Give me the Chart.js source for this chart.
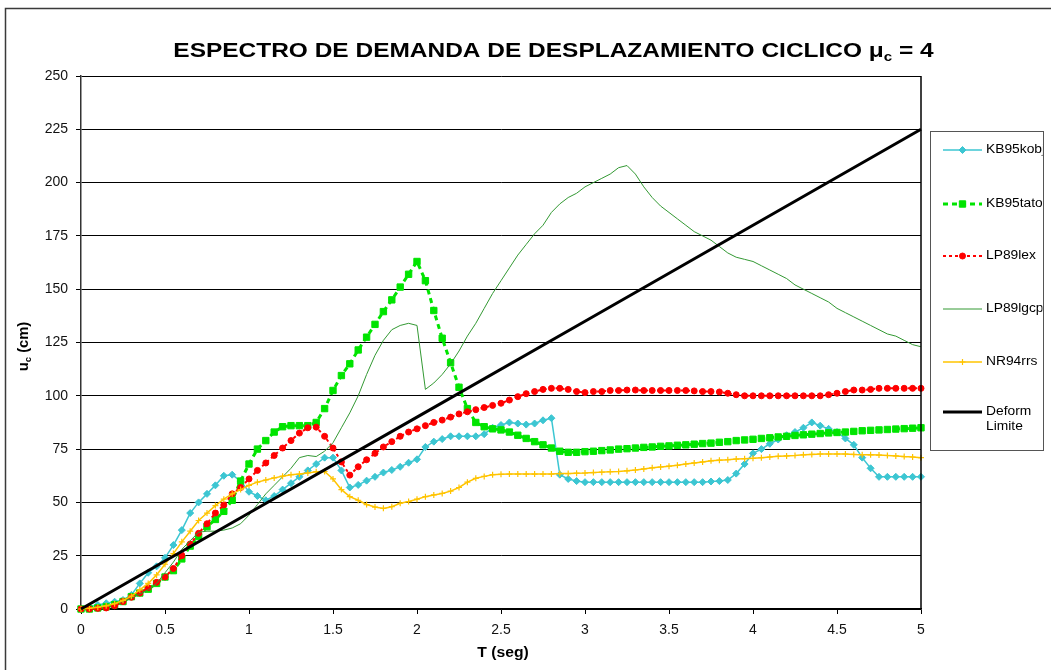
<!DOCTYPE html>
<html>
<head>
<meta charset="utf-8">
<title>Espectro de demanda de desplazamiento ciclico</title>
<script src="https://cdn.jsdelivr.net/npm/chart.js@4.4.1/dist/chart.umd.min.js"></script>
<style>
  html, body { margin: 0; padding: 0; background: #fff; }
  canvas { display: block; }
</style>
</head>
<body>
<canvas id="spectrumChart" width="1051" height="670"></canvas>
<script>
// periodo T (seg)
const periods = [
  0, 0.05, 0.1, 0.15, 0.2, 0.25, 0.3, 0.35, 0.4, 0.45,
  0.5, 0.55, 0.6, 0.65, 0.7, 0.75, 0.8, 0.85, 0.9, 0.95,
  1, 1.05, 1.1, 1.15, 1.2, 1.25, 1.3, 1.35, 1.4, 1.45,
  1.5, 1.55, 1.6, 1.65, 1.7, 1.75, 1.8, 1.85, 1.9, 1.95,
  2, 2.05, 2.1, 2.15, 2.2, 2.25, 2.3, 2.35, 2.4, 2.45,
  2.5, 2.55, 2.6, 2.65, 2.7, 2.75, 2.8, 2.85, 2.9, 2.95,
  3, 3.05, 3.1, 3.15, 3.2, 3.25, 3.3, 3.35, 3.4, 3.45,
  3.5, 3.55, 3.6, 3.65, 3.7, 3.75, 3.8, 3.85, 3.9, 3.95,
  4, 4.05, 4.1, 4.15, 4.2, 4.25, 4.3, 4.35, 4.4, 4.45,
  4.5, 4.55, 4.6, 4.65, 4.7, 4.75, 4.8, 4.85, 4.9, 4.95,
  5
];

const kb95kobj = [
  0, 1, 1.9, 2.7, 3.4, 4.2, 6.6, 12, 17, 20,
  24, 30, 37, 45, 50, 54, 58, 62.5, 63, 60,
  55, 53, 51, 53, 56, 59, 62, 65, 68, 71,
  71, 65, 57, 58.2, 60.2, 62, 64, 65.2, 66.7, 68.6,
  70.2, 76, 78.5, 79.7, 81, 81, 81, 81, 82, 85,
  86.3, 87.5, 87, 86.5, 87, 88.5, 89.5, 63, 61, 60,
  59.5, 59.5, 59.5, 59.5, 59.5, 59.5, 59.5, 59.5, 59.5, 59.5,
  59.5, 59.5, 59.5, 59.5, 59.5, 59.8, 60, 60.5, 63.5, 68,
  73, 75, 77.5, 79.5, 81.5, 83, 85, 87.5, 86, 84.5,
  83, 80, 77, 71, 66, 62, 62, 62, 62, 62,
  62
];

const kb95tato = [
  0, 0, 0.5, 1, 2, 3.5, 5.8, 7.5, 9.3, 12,
  15, 18, 23.5, 29.5, 34, 38.6, 42, 45.8, 51, 60,
  68, 75, 79, 83, 85.5, 86, 86, 86, 87.5, 94,
  102.5, 109.5, 115, 121.5, 127.5, 133.5, 139.5, 145, 151, 157,
  163, 154, 140, 127, 115.5, 104, 94, 87.5, 85.5, 84.5,
  84, 83, 81.5, 80, 78.5, 77, 75.5, 74, 73.5, 73.5,
  73.8, 74, 74.3, 74.6, 75, 75.2, 75.5, 75.8, 76, 76.3,
  76.5, 76.8, 77, 77.3, 77.6, 77.8, 78.2, 78.5, 79, 79.3,
  79.6, 80, 80.3, 80.7, 81, 81.4, 81.7, 82, 82.3, 82.6,
  82.8, 83, 83.3, 83.6, 83.8, 84, 84.2, 84.4, 84.6, 84.8,
  85
];

const lp89lex = [
  0, 0, 0.3, 0.5, 1.5, 3.5, 5.5, 7.5, 10, 12.5,
  15, 19, 25, 30.5, 35.5, 40, 45, 48.8, 54, 57,
  61, 65, 68.5, 72, 75.5, 79, 82.5, 85, 85.3, 81,
  75.5, 69, 62.8, 66.7, 70, 73, 76, 78.5, 81, 83,
  84.5, 86, 87.5, 88.6, 90, 91.5, 92.5, 93.5, 94.5, 95.5,
  96.5, 98, 99.6, 101, 102, 103, 103.5, 103.5, 103, 102,
  101.5, 102, 102, 102.5, 102.5, 102.7, 102.7, 102.5, 102.5, 102.5,
  102.5, 102.5, 102.5, 102.3, 102, 102, 101.8, 101.2, 100.5, 100,
  100, 100, 100, 100, 100, 100, 100, 100, 100, 100.5,
  101.2, 102, 102.7, 102.7, 103, 103.5, 103.5, 103.5, 103.5, 103.5,
  103.5
];

const lp89lgcp = [
  0, 0.3, 0.8, 1.5, 2.5, 3.5, 5, 7, 9, 12,
  17, 22, 28, 32, 36, 36.5, 36.5, 37, 38, 40,
  44, 49, 54, 58, 62, 66, 71, 72, 71.5, 74,
  78, 85, 92, 100, 110, 119, 126, 131, 133, 134,
  133, 103, 106, 110, 115, 121, 128, 134, 141, 148,
  154, 160, 166, 171, 176, 180, 186, 190, 193, 195,
  198, 200, 202, 204, 207, 208, 204, 198, 193, 189,
  186, 183, 180, 177, 175, 173, 170, 167, 165, 164,
  163, 161, 159, 157, 155, 152, 150, 148, 146, 144,
  141, 139, 137, 135, 133, 131, 129, 128, 126, 124,
  123
];

const nr94rrs = [
  0, 0.3, 0.8, 1.5, 2.5, 4, 6, 9, 12, 16,
  21, 26, 31.5, 36.5, 41.5, 45, 48.5, 51.5, 54, 56,
  58, 59.5, 60.5, 61.5, 62.3, 63, 63.3, 63.8, 64.4, 64.5,
  61, 56, 52.7, 51, 49, 47.8, 47.2, 48, 49.6, 50.4,
  51.5, 52.7, 53.5, 54.2, 55.3, 57, 59.5, 61.3, 62.2, 63,
  63.2, 63.3, 63.3, 63.3, 63.3, 63.3, 63.3, 63.5, 63.5, 63.7,
  63.8, 64, 64.2, 64.4, 64.5, 64.8, 65.2, 65.7, 66.2, 66.6,
  67, 67.4, 68, 68.5, 69, 69.5, 69.8, 70, 70.3, 70.5,
  70.7, 71, 71.3, 71.6, 71.8, 72, 72.3, 72.5, 72.7, 72.7,
  72.7, 72.7, 72.5, 72.4, 72.3, 72.2, 72, 71.8, 71.5, 71.3,
  71
];

// limite de deformacion
const limitPeriods = [0, 1, 2, 3, 4, 5];
const limitValues = [0, 45, 90, 135, 180, 225];

const xTicks = [0, 0.5, 1, 1.5, 2, 2.5, 3, 3.5, 4, 4.5, 5];
const yTicks = [0, 25, 50, 75, 100, 125, 150, 175, 200, 225, 250];

const FONT = '"Liberation Sans", Arial, Helvetica, sans-serif';
Chart.defaults.font.family = FONT;

function toPoints(xs, ys) {
    return xs.map((x, i) => ({ x: x, y: ys[i] }));
}

const series = [
    { label: 'KB95kobj', data: toPoints(periods, kb95kobj), color: '#3cc6d2', width: 1.5, dash: [], marker: 'rectRot', radius: 3.5 },
    { label: 'KB95tato', data: toPoints(periods, kb95tato), color: '#00e400', width: 3, dash: [5, 4], marker: 'rect', radius: 4.5 },
    { label: 'LP89lex', data: toPoints(periods, lp89lex), color: '#ff0000', width: 2, dash: [3, 3], marker: 'circle', radius: 3 },
    { label: 'LP89lgcp', data: toPoints(periods, lp89lgcp), color: '#339933', width: 1, dash: [], marker: false, radius: 0 },
    { label: 'NR94rrs', data: toPoints(periods, nr94rrs), color: '#ffc400', width: 1.5, dash: [], marker: 'cross', radius: 3 },
    { label: 'Deform\nLimite', data: toPoints(limitPeriods, limitValues), color: '#000000', width: 3, dash: [], marker: false, radius: 0 }
];

const datasets = series.map((s, i) => ({
    label: s.label,
    data: s.data,
    borderColor: s.color,
    backgroundColor: s.color,
    borderWidth: s.width,
    borderDash: s.dash,
    pointStyle: s.marker || 'circle',
    pointRadius: s.radius,
    pointBorderWidth: s.marker === 'cross' ? 1.2 : 1,
    pointBackgroundColor: s.color,
    pointBorderColor: s.color,
    tension: 0,
    fill: false,
    clip: false,
    order: series.length - i
}));

// draws text stretched horizontally, like the original export
function drawStretched(ctx, parts, cx, baseline, sx, align) {
    let total = 0;
    parts.forEach(p => { ctx.font = p.font; p.w = ctx.measureText(p.text).width; total += p.w; });
    let x0 = align === 'left' ? cx : cx - total * sx / 2;
    ctx.save();
    ctx.translate(x0, baseline);
    ctx.scale(sx, 1);
    let x = 0;
    parts.forEach(p => {
        ctx.font = p.font;
        ctx.fillText(p.text, x, p.dy || 0);
        x += p.w;
    });
    ctx.restore();
}

const decorPlugin = {
    id: 'decor',
    beforeDraw(chart) {
        const ctx = chart.ctx;
        ctx.save();
        ctx.fillStyle = '#ffffff';
        ctx.fillRect(0, 0, chart.width, chart.height);
        ctx.restore();
    },
    afterDraw(chart) {
        const ctx = chart.ctx;
        const a = chart.chartArea;
        ctx.save();

        // right border of plot area
        ctx.strokeStyle = '#000';
        ctx.lineWidth = 1.5;
        ctx.beginPath();
        ctx.moveTo(a.right, a.top);
        ctx.lineTo(a.right, a.bottom);
        ctx.stroke();

        // outer frame
        ctx.strokeStyle = '#3a3a3a';
        ctx.lineWidth = 1.5;
        ctx.strokeRect(5.5, 8.5, 1100, 700);

        ctx.fillStyle = '#000';
        ctx.textAlign = 'left';
        ctx.textBaseline = 'alphabetic';

        // title
        drawStretched(ctx, [
            { text: 'ESPECTRO DE DEMANDA DE DESPLAZAMIENTO CICLICO \u03bc', font: 'bold 21px ' + FONT },
            { text: 'c', font: 'bold 13px ' + FONT, dy: 4 },
            { text: ' = 4', font: 'bold 21px ' + FONT }
        ], 553.5, 57, 1.165);

        // x axis title
        drawStretched(ctx, [{ text: 'T (seg)', font: 'bold 14px ' + FONT }], (a.left + a.right) / 2 + 2, 657, 1.12);

        // y axis title
        ctx.save();
        ctx.translate(28, (a.top + a.bottom) / 2 + 4);
        ctx.rotate(-Math.PI / 2);
        drawStretched(ctx, [
            { text: 'u', font: 'bold 14px ' + FONT },
            { text: 'c', font: 'bold 9px ' + FONT, dy: 3 },
            { text: ' (cm)', font: 'bold 14px ' + FONT }
        ], 0, 0, 1.05);
        ctx.restore();

        // legend
        const box = { x: 930.5, y: 131.5, w: 113, h: 319 };
        ctx.strokeStyle = '#555';
        ctx.lineWidth = 1;
        ctx.strokeRect(box.x, box.y, box.w, box.h);
        ctx.save();
        ctx.beginPath();
        ctx.rect(box.x + 1, box.y + 1, box.w - 2, box.h - 2);
        ctx.clip();
        const rows = [150, 204, 256, 309, 362, 412];
        series.forEach((s, i) => {
            const y = rows[i];
            ctx.save();
            ctx.strokeStyle = s.color;
            ctx.lineWidth = s.width;
            ctx.setLineDash(s.dash);
            ctx.beginPath();
            ctx.moveTo(943, y);
            ctx.lineTo(982, y);
            ctx.stroke();
            ctx.restore();
            if (s.marker) {
                ctx.save();
                ctx.fillStyle = s.color;
                ctx.strokeStyle = s.color;
                ctx.lineWidth = s.marker === 'cross' ? 1.2 : 1;
                Chart.helpers.drawPoint(ctx, {
                    pointStyle: s.marker,
                    radius: s.radius,
                    rotation: 0,
                    borderWidth: 1
                }, 962.5, y);
                ctx.restore();
            }
            ctx.fillStyle = '#000';
            ctx.textBaseline = 'middle';
            s.label.split('\n').forEach((line, k) => {
                drawStretched(ctx, [{ text: line, font: '12px ' + FONT }], 986, y + k * 15, 1.15, 'left');
            });
        });
        ctx.restore();

        ctx.restore();
    }
};

new Chart(document.getElementById('spectrumChart').getContext('2d'), {
    type: 'line',
    data: { datasets: datasets },
    options: {
        responsive: false,
        animation: false,
        layout: { padding: { top: 76, right: 130, bottom: 0, left: 0 } },
        plugins: {
            legend: { display: false },
            title: { display: false },
            tooltip: { enabled: false }
        },
        scales: {
            x: {
                type: 'linear',
                min: 0,
                max: 5,
                afterFit: s => { s.height = 61; },
                afterBuildTicks: s => { s.ticks = xTicks.map(v => ({ value: v })); },
                ticks: { color: '#111', font: { size: 14 }, padding: 8, maxRotation: 0, callback: v => String(v) },
                grid: { drawOnChartArea: false, drawTicks: true, tickLength: 5, tickColor: '#000', color: '#000' },
                border: { color: '#000', width: 1.5 }
            },
            y: {
                min: 0,
                max: 250,
                afterFit: s => { s.width = 81; },
                afterBuildTicks: s => { s.ticks = yTicks.map(v => ({ value: v })); },
                ticks: { color: '#111', font: { size: 14 }, padding: 8, callback: v => String(v) },
                grid: { color: '#000', lineWidth: 1, drawTicks: true, tickLength: 5, tickColor: '#000' },
                border: { color: '#333', width: 1.5 }
            }
        }
    },
    plugins: [decorPlugin]
});
</script>
</body>
</html>
